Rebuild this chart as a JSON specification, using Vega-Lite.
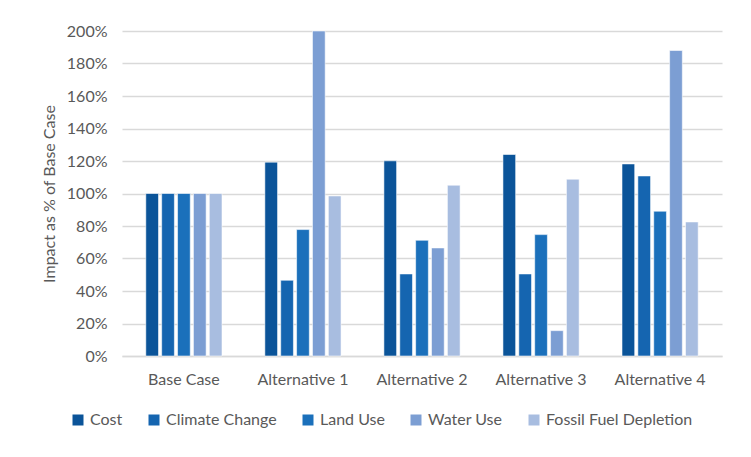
{
  "$schema": "https://vega.github.io/schema/vega-lite/v6.json",
  "width": 600,
  "height": 325,
  "autosize": {"type": "none"},
  "padding": {"left": 122, "top": 31, "right": 29, "bottom": 101},
  "background": "white",
  "data": {
    "values": [
      {"scenario": "Base Case", "impact": "Cost", "value": 100},
      {"scenario": "Base Case", "impact": "Climate Change", "value": 100},
      {"scenario": "Base Case", "impact": "Land Use", "value": 100},
      {"scenario": "Base Case", "impact": "Water Use", "value": 100},
      {"scenario": "Base Case", "impact": "Fossil Fuel Depletion", "value": 100},
      {"scenario": "Alternative 1", "impact": "Cost", "value": 119.3},
      {"scenario": "Alternative 1", "impact": "Climate Change", "value": 46.6},
      {"scenario": "Alternative 1", "impact": "Land Use", "value": 77.8},
      {"scenario": "Alternative 1", "impact": "Water Use", "value": 200},
      {"scenario": "Alternative 1", "impact": "Fossil Fuel Depletion", "value": 98.5},
      {"scenario": "Alternative 2", "impact": "Cost", "value": 120.1},
      {"scenario": "Alternative 2", "impact": "Climate Change", "value": 50.5},
      {"scenario": "Alternative 2", "impact": "Land Use", "value": 71.2},
      {"scenario": "Alternative 2", "impact": "Water Use", "value": 66.5},
      {"scenario": "Alternative 2", "impact": "Fossil Fuel Depletion", "value": 105.1},
      {"scenario": "Alternative 3", "impact": "Cost", "value": 124},
      {"scenario": "Alternative 3", "impact": "Climate Change", "value": 50.5},
      {"scenario": "Alternative 3", "impact": "Land Use", "value": 74.7},
      {"scenario": "Alternative 3", "impact": "Water Use", "value": 15.6},
      {"scenario": "Alternative 3", "impact": "Fossil Fuel Depletion", "value": 108.8},
      {"scenario": "Alternative 4", "impact": "Cost", "value": 118.2},
      {"scenario": "Alternative 4", "impact": "Climate Change", "value": 110.8},
      {"scenario": "Alternative 4", "impact": "Land Use", "value": 89.1},
      {"scenario": "Alternative 4", "impact": "Water Use", "value": 188},
      {"scenario": "Alternative 4", "impact": "Fossil Fuel Depletion", "value": 82.5}
    ]
  },
  "mark": {"type": "bar", "stroke": "white", "strokeWidth": 0.8, "strokeOpacity": 0.7},
  "encoding": {
    "x": {
      "field": "scenario",
      "type": "nominal",
      "sort": ["Base Case", "Alternative 1", "Alternative 2", "Alternative 3", "Alternative 4"],
      "scale": {"paddingInner": 0.36, "paddingOuter": 0.2},
      "axis": {
        "title": null,
        "labelAngle": 0,
        "labelFont": "Lato",
        "labelFontSize": 16,
        "labelColor": "#595959",
        "labelPadding": 15,
        "ticks": false,
        "domainColor": "#d9d9d9",
        "domainWidth": 1.5
      }
    },
    "xOffset": {
      "field": "impact",
      "type": "nominal",
      "sort": ["Cost", "Climate Change", "Land Use", "Water Use", "Fossil Fuel Depletion"],
      "scale": {"paddingInner": 0.2, "paddingOuter": 0}
    },
    "y": {
      "field": "value",
      "type": "quantitative",
      "scale": {"domain": [0, 200]},
      "axis": {
        "title": "Impact as % of Base Case",
        "titleFont": "Lato",
        "titleFontSize": 16,
        "titleFontWeight": "normal",
        "titleColor": "#595959",
        "titlePadding": 9,
        "values": [0, 20, 40, 60, 80, 100, 120, 140, 160, 180, 200],
        "labelExpr": "datum.value + '%'",
        "labelFont": "Lato",
        "labelFontSize": 16,
        "labelColor": "#595959",
        "labelPadding": 15,
        "ticks": false,
        "domain": false,
        "gridColor": "#d9d9d9",
        "gridWidth": 1.5
      }
    },
    "color": {
      "field": "impact",
      "type": "nominal",
      "sort": ["Cost", "Climate Change", "Land Use", "Water Use", "Fossil Fuel Depletion"],
      "scale": {
        "domain": ["Cost", "Climate Change", "Land Use", "Water Use", "Fossil Fuel Depletion"],
        "range": ["#0b5499", "#1565b0", "#1b70bb", "#7c9ed3", "#a8bde0"]
      },
      "legend": {
        "title": null,
        "orient": "none",
        "direction": "horizontal",
        "legendX": -52,
        "legendY": 381,
        "symbolType": "square",
        "symbolSize": 121,
        "symbolStrokeWidth": 0,
        "labelFont": "Lato",
        "labelFontSize": 16,
        "labelColor": "#595959",
        "columnPadding": 23,
        "labelOffset": 4
      }
    }
  },
  "config": {"view": {"stroke": null}}
}
